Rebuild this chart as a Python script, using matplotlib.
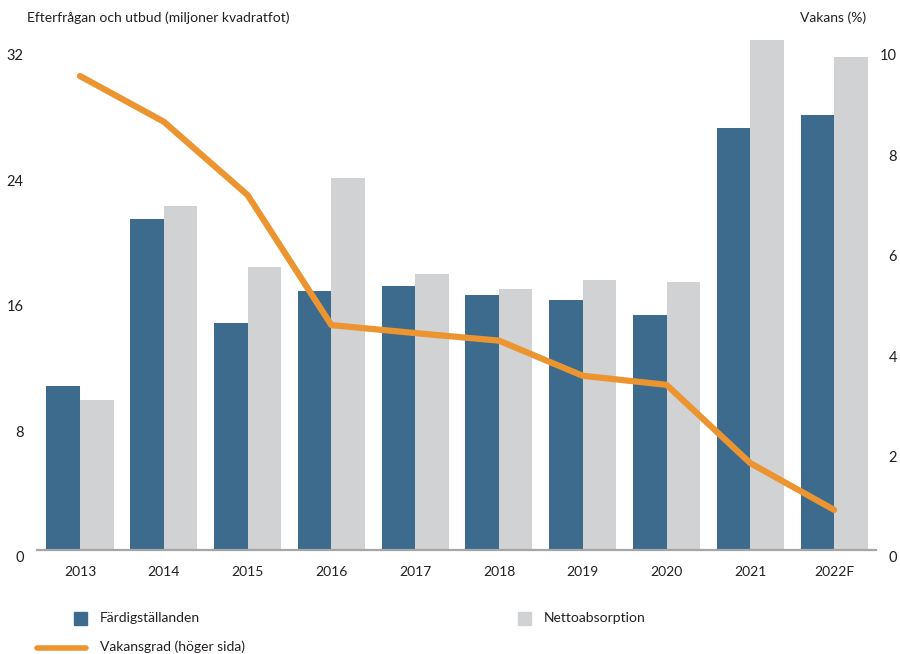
import numpy as np
import matplotlib.pyplot as plt
from matplotlib.patches import Rectangle
from matplotlib.lines import Line2D
from matplotlib.transforms import ScaledTranslation

plt.rcParams['font.family'] = ['Lato', 'DejaVu Sans']

years = ['2013', '2014', '2015', '2016', '2017', '2018', '2019', '2020', '2021', '2022F']
# million sq ft (left axis)
completions = [10.4, 21.05, 14.45, 16.5, 16.8, 16.2, 15.9, 14.95, 26.85, 27.7]
absorption = [9.55, 21.9, 18.0, 23.7, 17.55, 16.6, 17.2, 17.05, 32.45, 31.4]
# vacancy rate, % (right axis)
vacancy = [9.43, 8.52, 7.06, 4.47, 4.31, 4.16, 3.46, 3.28, 1.72, 0.79]

left_ticks = [0, 8, 16, 24, 32]
right_ticks = [0, 2, 4, 6, 8, 10]

blue = '#3d6b8e'
grey = '#d1d2d4'
orange = '#ec9430'
text_col = '#231f20'
fs = 10

W, H = 900, 654
fig = plt.figure(figsize=(W / 100, H / 100), dpi=100)
ax = fig.add_axes([37 / W, 104.5 / H, 839 / W, 511.5 / H])

x = np.arange(len(years))
w = 0.4
ax.bar(x - w / 2, completions, w, color=blue)
ax.bar(x + w / 2, absorption, w, color=grey)
ax.set_xlim(-0.513, 9.5)
ax.set_ylim(0, 32.6)

ax2 = ax.twinx()
ax2.plot(x, vacancy, color=orange, lw=4.5, solid_capstyle='round')
ax2.set_ylim(0, 32.6 / 3.2)

for a in (ax, ax2):
    for s in a.spines.values():
        s.set_visible(False)
ax.spines['bottom'].set_visible(True)
ax.spines['bottom'].set_color('#a6a6a6')
ax.spines['bottom'].set_linewidth(1.6)

ax.set_xticks(x, years)
ax.tick_params(axis='x', length=0, pad=12, labelsize=fs, labelcolor=text_col)
ax.set_yticks(left_ticks)
ax.tick_params(axis='y', length=0, pad=9.5, labelsize=fs + 0.5, labelcolor=text_col)
ax2.set_yticks(right_ticks)
ax2.tick_params(axis='y', length=0, pad=15, labelsize=fs + 0.5, labelcolor=text_col)

# y tick labels sit a little below their value
shift = ScaledTranslation(0, -0.075, fig.dpi_scale_trans)
for lab in ax.get_yticklabels():
    lab.set_transform(lab.get_transform() + shift)
for lab in ax2.get_yticklabels():
    lab.set_transform(lab.get_transform() + shift)
    lab.set_horizontalalignment('right')

fig.text(27 / W, 1 - 18 / H, 'Efterfrågan och utbud (miljoner kvadratfot)',
         va='center', ha='left', fontsize=fs, color=text_col)
fig.text(866 / W, 1 - 18 / H, 'Vakans (%)', va='center', ha='right',
         fontsize=fs, color=text_col)

# legend
fig.add_artist(Rectangle((74 / W, 1 - 625 / H), 13 / W, 13 / H,
                         transform=fig.transFigure, color=blue))
fig.text(100 / W, 1 - 618 / H, 'Färdigställanden', va='center', fontsize=fs, color=text_col)
fig.add_artist(Rectangle((518 / W, 1 - 625 / H), 13 / W, 13 / H,
                         transform=fig.transFigure, color=grey))
fig.text(544 / W, 1 - 618 / H, 'Nettoabsorption', va='center', fontsize=fs, color=text_col)
fig.add_artist(Line2D([37 / W, 86 / W], [1 - 648 / H, 1 - 648 / H], transform=fig.transFigure,
                      color=orange, lw=4, solid_capstyle='round'))
fig.text(100 / W, 1 - 647 / H, 'Vakansgrad (höger sida)', va='center', fontsize=fs, color=text_col)

fig.savefig('out.png', dpi=100)
